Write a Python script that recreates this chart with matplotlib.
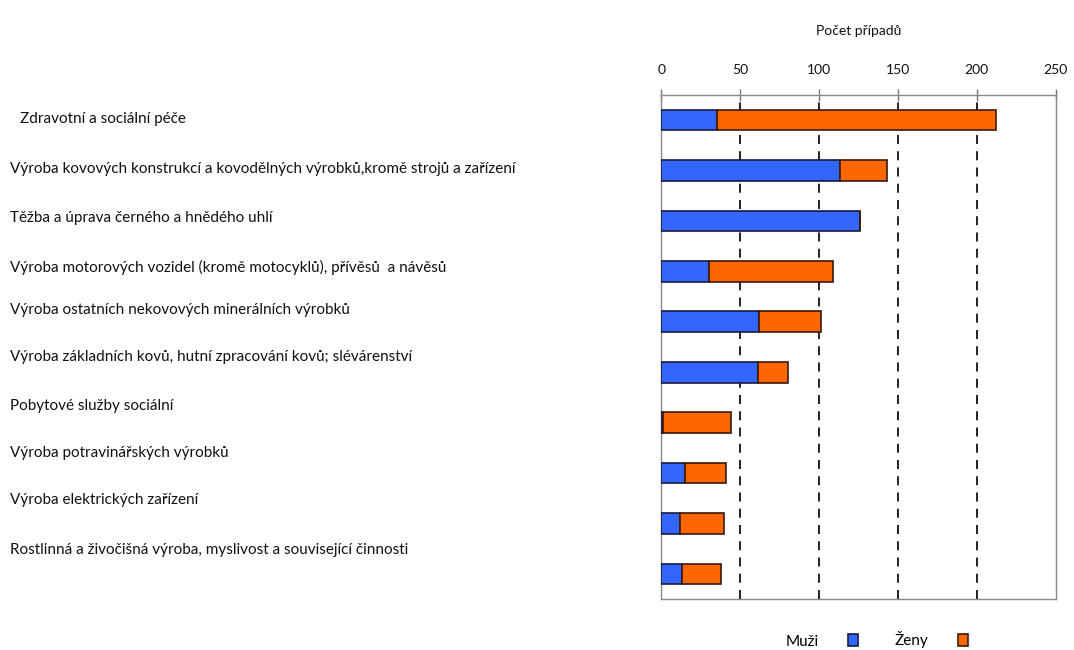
import matplotlib
matplotlib.use("Agg")
import matplotlib.pyplot as plt
import numpy as np

# Data (number of cases)
categories = [
    "Zdravotní a sociální péče",
    "Výroba kovových konstrukcí a kovodělných výrobků,kromě strojů a zařízení",
    "Těžba a úprava černého a hnědého uhlí",
    "Výroba motorových vozidel (kromě motocyklů), přívěsů  a návěsů",
    "Výroba ostatních nekovových minerálních výrobků",
    "Výroba základních kovů, hutní zpracování kovů; slévárenství",
    "Pobytové služby sociální",
    "Výroba potravinářských výrobků",
    "Výroba elektrických zařízení",
    "Rostlinná a živočišná výroba, myslivost a související činnosti",
]
muzi = [35, 113, 126, 30, 62, 61, 1, 15, 12, 13]
zeny = [177, 30, 0, 79, 39, 19, 43, 26, 28, 25]
x_ticks = [0, 50, 100, 150, 200, 250]

# label layout (pixel rows of the left-hand text, as in the original picture)
label_y_px = [119, 169, 218, 267, 310, 357, 406, 453, 500, 550]
label_x_px = [20, 10, 10, 10, 10, 10, 10, 10, 10, 10]

W, H = 1074, 650
plt.rcParams['font.family'] = ['Lato', 'DejaVu Sans']

fig = plt.figure(figsize=(W / 100, H / 100), dpi=100)
ax = fig.add_axes([661.3 / W, 1 - 599.3 / H, 394.4 / W, 504.6 / H])

blue = '#3366ff'
orange = '#ff6600'
y = np.arange(len(categories))

ax.barh(y, muzi, height=0.41, color=blue, edgecolor='#1a1a3a', linewidth=1.2, label='Muži', zorder=3)
ax.barh(y, zeny, left=muzi, height=0.41, color=orange, edgecolor='#3a1a0a', linewidth=1.2, label='Ženy', zorder=3)

ax.set_xlim(0, 250)
ax.set_ylim(len(categories) - 0.5, -0.5)
ax.set_yticks([])
ax.set_xticks(x_ticks)
ax.xaxis.tick_top()
ax.tick_params(axis='x', direction='inout', length=9, width=1, color='#777777',
               labelsize=10, pad=9, labelcolor='#111111')

for v in x_ticks[1:-1]:
    ax.axvline(v, color='#111111', linestyle=(0, (5, 4)), linewidth=1.3, zorder=1)

for s in ax.spines.values():
    s.set_color('#888888')
    s.set_linewidth(1.0)

ax.set_title('Počet případů', fontsize=10, pad=43, color='#111111')

for i, name in enumerate(categories):
    fig.text(label_x_px[i] / W, 1 - label_y_px[i] / H, name, fontsize=11,
             ha='left', va='center', color='#111111')

leg = fig.legend(loc='center', bbox_to_anchor=(877 / W, 1 - 640 / H), ncol=2,
                 markerfirst=False, frameon=False, fontsize=11,
                 handlelength=0.7, handleheight=0.85, columnspacing=2.4,
                 handletextpad=1.9)

fig.savefig('out.png', dpi=100)
